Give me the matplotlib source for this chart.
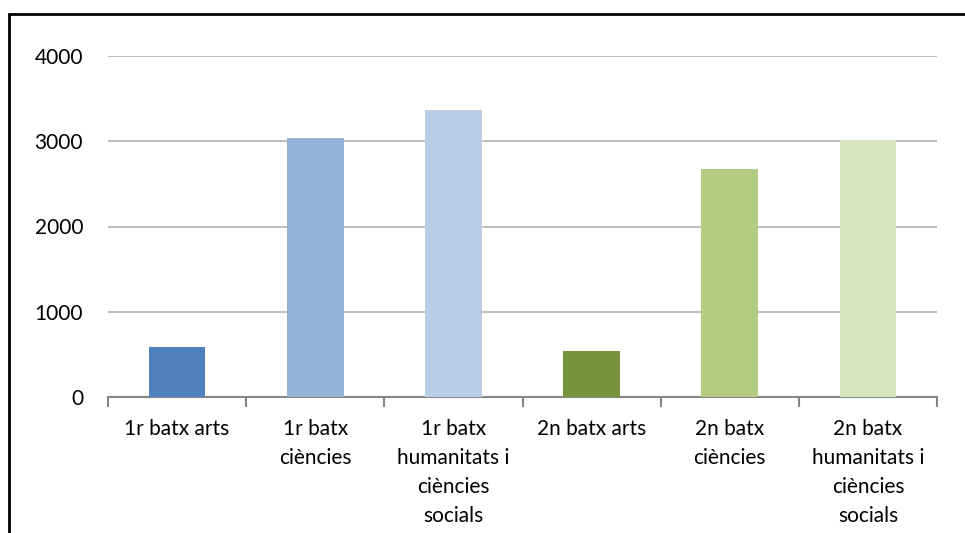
import matplotlib
matplotlib.use("Agg")
import matplotlib.pyplot as plt
from matplotlib.patches import Rectangle
import numpy as np

categories = ["1r batx arts", "1r batx\nciències", "1r batx\nhumanitats i\nciències\nsocials",
              "2n batx arts", "2n batx\nciències", "2n batx\nhumanitats i\nciències\nsocials"]
values = [585, 3035, 3365, 540, 2675, 3015]
colors = ["#4F81BD", "#95B3D7", "#B9CDE5", "#77933C", "#B3CC82", "#D7E4BD"]
yticks = [0, 1000, 2000, 3000, 4000]

plt.rcParams['font.family'] = ['Lato', 'DejaVu Sans']

fig = plt.figure(figsize=(9.65, 5.33), dpi=100)
W, H = 965, 533
ax = fig.add_axes([108/W, 1-397/H, (937-108)/W, (397-56)/H])

x = np.arange(len(categories))
ax.bar(x, values, width=0.41, color=colors, zorder=3)

ax.set_xlim(-0.5, len(categories)-0.5)
ax.set_ylim(0, 4000)
ax.set_yticks(yticks)
ax.set_yticklabels([str(v) for v in yticks], fontsize=15, color="#000000")
ax.tick_params(axis='y', length=0, pad=18)
ax.yaxis.grid(True, color="#BFBFBF", linewidth=1.5, zorder=0)
ax.set_axisbelow(True)

ax.set_xticks(x)
ax.set_xticklabels(categories, fontsize=15, linespacing=1.56, color="#000000")
ax.tick_params(axis='x', length=0, pad=16)
ax.set_xticks(np.arange(-0.5, len(categories), 1.0), minor=True)
ax.tick_params(axis='x', which='minor', length=7, width=1.5, color="#868686")

for s in ['left', 'right', 'top']:
    ax.spines[s].set_visible(False)
ax.spines['bottom'].set_color("#868686")
ax.spines['bottom'].set_linewidth(1.5)

# outer border of chart area
fig.patches.append(Rectangle((9/W, -0.1), 1.2, 1 - 14/H + 0.1, transform=fig.transFigure,
                             fill=False, edgecolor="#000000", linewidth=2))

fig.savefig("out.png", dpi=100)
